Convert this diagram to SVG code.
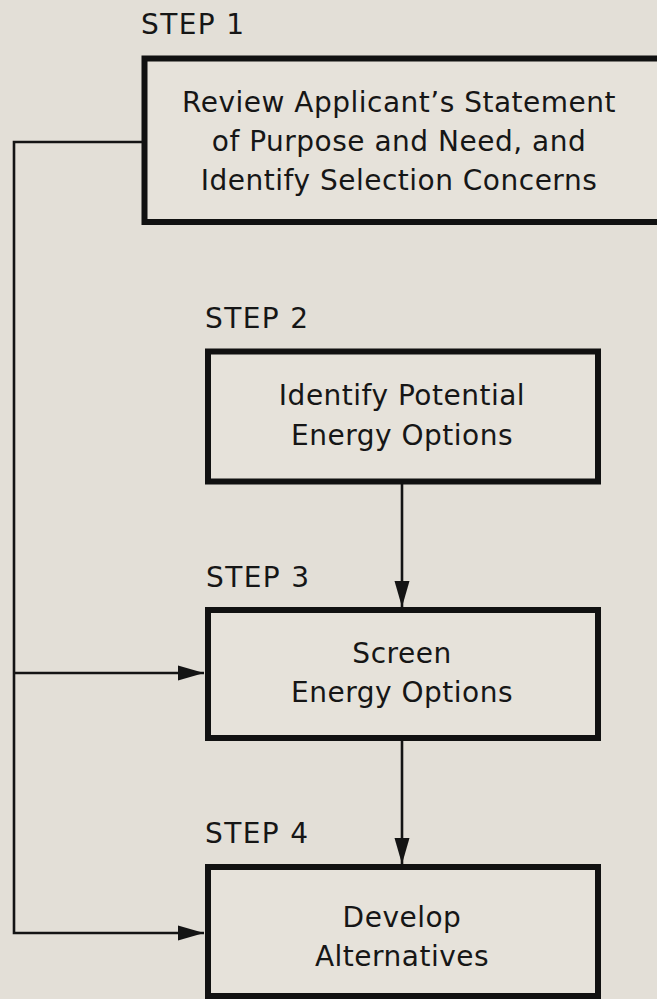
<svg xmlns="http://www.w3.org/2000/svg" width="657" height="999" viewBox="0 0 657 999">
  <defs>
    <marker id="arrow" markerUnits="userSpaceOnUse" markerWidth="26" markerHeight="18" refX="26" refY="9" orient="auto">
      <path d="M0,1.5 L26,9 L0,16.5 z" fill="#141414"/>
    </marker>
    <style>
      .bg { fill: #e3dfd7; }
      .box { fill: #e6e2da; stroke: #111; stroke-width: 6; }
      .lbl { font-family: "DejaVu Sans", "Liberation Sans", sans-serif; font-size: 28px; fill: #161616; letter-spacing: 1.4px; }
      .txt { font-family: "DejaVu Sans", "Liberation Sans", sans-serif; font-size: 28px; fill: #161616; text-anchor: middle; letter-spacing: 0.5px; }
      .conn { fill: none; stroke: #141414; stroke-width: 2.6; }
    </style>
  </defs>
  <rect class="bg" x="0" y="0" width="657" height="999"/>

  <g id="connectors">
    <path class="conn" d="M143,142 H14 V933 H204" marker-end="url(#arrow)"/>
    <path class="conn" d="M14,673 H204" marker-end="url(#arrow)"/>
    <path class="conn" d="M402,484 V607" marker-end="url(#arrow)"/>
    <path class="conn" d="M402,740 V864" marker-end="url(#arrow)"/>
  </g>

  <g id="step1">
    <text class="lbl" x="141" y="34">STEP 1</text>
    <rect class="box" x="144.5" y="58.5" width="520" height="163.5"/>
    <text class="txt" x="399" y="112">Review Applicant’s Statement</text>
    <text class="txt" x="399" y="151">of Purpose and Need, and</text>
    <text class="txt" x="399" y="190">Identify Selection Concerns</text>
  </g>

  <g id="step2">
    <text class="lbl" x="205" y="328">STEP 2</text>
    <rect class="box" x="208" y="351.5" width="390" height="130"/>
    <text class="txt" x="402" y="405">Identify Potential</text>
    <text class="txt" x="402" y="445">Energy Options</text>
  </g>

  <g id="step3">
    <text class="lbl" x="206" y="587">STEP 3</text>
    <rect class="box" x="208" y="610" width="390" height="128"/>
    <text class="txt" x="402" y="663">Screen</text>
    <text class="txt" x="402" y="702">Energy Options</text>
  </g>

  <g id="step4">
    <text class="lbl" x="205" y="843">STEP 4</text>
    <rect class="box" x="208" y="867" width="390" height="129"/>
    <text class="txt" x="402" y="927">Develop</text>
    <text class="txt" x="402" y="966">Alternatives</text>
  </g>
</svg>
